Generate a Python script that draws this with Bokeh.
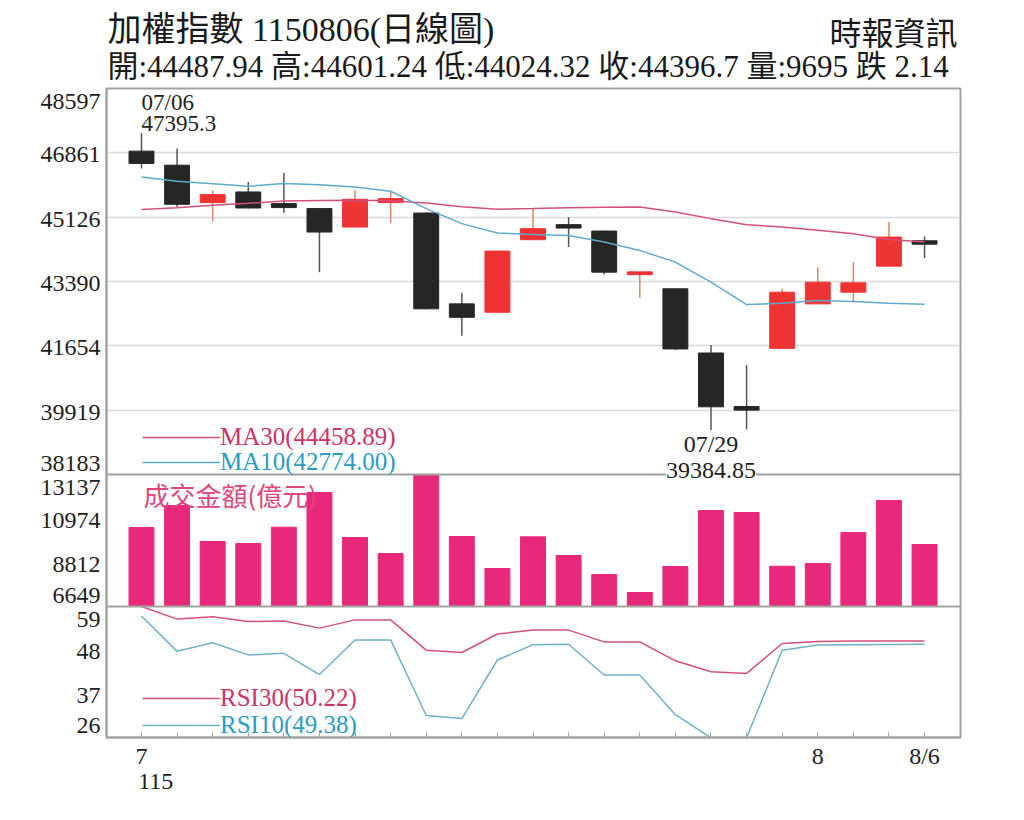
import numpy as np
from bokeh.plotting import figure
from bokeh.layouts import column
from bokeh.models import (ColumnDataSource, Range1d, FixedTicker, Label, Span,
                          Legend, LegendItem, LinearAxis)
from bokeh.embed import file_html
from bokeh.resources import INLINE

# 加權指數 daily candles, 115/07/06 .. 115/08/06
opens = [46907, 46528, 45519, 45806, 45492, 45357, 44859, 45519, 45238, 42787, 42560, 44518,
         44924, 44751, 43575, 43193, 41461, 40017, 41586, 42787, 43101, 43804, 44487.94]
highs = [47395.3, 46980, 45852, 46076, 46320, 45365, 45852, 45833, 45250, 43084, 44220, 45357,
         45129, 44760, 43655, 43200, 41678, 41137, 43193, 43777, 43912, 44994, 44601.24]
lows = [46439, 45400, 45013, 45357, 45248, 43642, 44850, 44967, 42640, 41929, 42550, 44510,
        44318, 43580, 42949, 41540, 39384.85, 39400, 41580, 42780, 42857, 43800, 44024.32]
closes = [46574, 45473, 45735, 45373, 45384, 44724, 45608, 45627, 42652, 42424, 44210, 44816,
          44832, 43642, 43650, 41570, 40009, 39920, 43101, 43371, 43355, 44588, 44396.7]

ma30 = [45330, 45378, 45446, 45500, 45562, 45573, 45581, 45568, 45508, 45405, 45338, 45357,
        45378, 45392, 45400, 45265, 45086, 44924, 44859, 44770, 44681, 44526, 44458.89]
ma10 = [46212, 46095, 46028, 45960, 46033, 46000, 45941, 45825, 45357, 44951, 44697, 44661,
        44634, 44453, 44229, 43912, 43371, 42768, 42803, 42876, 42849, 42803, 42774.00]

# 成交金額(億元)
volume = [10530, 11613, 9844, 9745, 10545, 12252, 10040, 9254, 13137, 10090, 8517, 10075,
          9156, 8222, 7337, 8615, 11367, 11269, 8630, 8762, 10286, 11859, 9695]

rsi30 = [59.0, 55.8, 56.4, 55.2, 55.3, 53.5, 55.6, 55.6, 47.9, 47.3, 52.0, 53.0,
         53.0, 50.0, 50.0, 45.2, 42.4, 42.0, 49.6, 50.1, 50.2, 50.2, 50.22]
rsi10 = [56.6, 47.6, 49.8, 46.7, 47.1, 41.7, 50.5, 50.5, 31.3, 30.5, 45.4, 49.3,
         49.4, 41.6, 41.6, 31.5, 25.6, 25.6, 47.9, 49.2, 49.3, 49.35, 49.38]

price_ticks = [38183, 39919, 41654, 43390, 45126, 46861, 48597]
vol_ticks = [6649, 8812, 10974, 13137]
rsi_ticks = [26, 37, 48, 59]
rsi_bounds = [25.7, 59.0]
x_ticks = [0, 19, 22]
x_tick_text = ["7", "8", "8/6"]
year_text = "115"
hi_date, lo_date = "07/06", "07/29"
change = 2.14

SERIF = "Liberation Serif, Noto Sans CJK TC"
CJK = "Noto Sans CJK TC"
INK = "#1e1e1e"
RED, BLACK = "#ee3333", "#262626"
PINK, BLUE = "#d4507c", "#5eaacd"
BORDER = "#a3a3a3"

n = len(closes)
idx = list(range(n))

# frame split into three stacked panels (px from frame top)
LEFT, RIGHT, HEAD = 106, 30, 86
FW, FH = 854, 649
PRICE_BAND, VOL_BAND, RSI_BAND = (0, 386), (386, 518), (518, 649)


def stretch(lo, hi, band):
    top, bot = band
    ppu = (bot - top) / (hi - lo)
    return Range1d(lo - (FH - bot) / ppu, hi + top / ppu)


price_rng = stretch(price_ticks[0], price_ticks[-1], PRICE_BAND)
vol_rng = stretch(vol_ticks[0], vol_ticks[-1], VOL_BAND)
rsi_rng = stretch(rsi_bounds[0], rsi_bounds[1], RSI_BAND)

p = figure(frame_width=FW, frame_height=FH, min_border_left=LEFT, min_border_right=RIGHT,
           min_border_top=2, min_border_bottom=60,
           x_range=Range1d(-0.983, 23.01), y_range=price_rng,
           output_backend="svg", toolbar_location=None)
p.extra_y_ranges = {"vol": vol_rng, "rsi": rsi_rng}

p.outline_line_color = BORDER
p.outline_line_width = 2
p.xgrid.visible = False
p.ygrid.ticker = FixedTicker(ticks=price_ticks)
p.ygrid.grid_line_color = "#dcdcdc"
p.ygrid.grid_line_width = 1.5

# one left axis carries the labels of all three panels (edge labels kept inside)
span_p = price_rng.end - price_rng.start
ytick_pos, ytick_txt = [], {}
for ticks, rng in ((price_ticks, price_rng), (vol_ticks, vol_rng), (rsi_ticks, rsi_rng)):
    for k, v in enumerate(ticks):
        nudge = -11 if k == 0 else (13 if k == len(ticks) - 1 else 2)
        pos = price_rng.start + (v - rng.start) / (rng.end - rng.start) * span_p
        pos -= nudge * span_p / FH
        ytick_pos.append(pos)
        ytick_txt[pos] = str(v)
ay = p.yaxis[0]
ay.ticker = FixedTicker(ticks=ytick_pos, minor_ticks=[])
ay.major_label_overrides = ytick_txt
ay.axis_line_color = BORDER
ay.axis_line_width = 2
ay.major_tick_line_color = None
ay.minor_tick_line_color = None
ay.major_label_standoff = 0
ay.major_label_text_font = SERIF
ay.major_label_text_font_size = "24px"
ay.major_label_text_color = INK

ax = p.xaxis[0]
ax.ticker = FixedTicker(ticks=x_ticks, minor_ticks=idx)
ax.major_label_overrides = dict(zip(x_ticks, x_tick_text))
ax.axis_line_color = BORDER
ax.axis_line_width = 2
ax.major_tick_line_color = BORDER
ax.major_tick_in, ax.major_tick_out = 5, 0
ax.minor_tick_line_color = BORDER
ax.minor_tick_in, ax.minor_tick_out = 5, 0
ax.major_label_standoff = 5
ax.major_label_text_font = SERIF
ax.major_label_text_font_size = "24px"
ax.major_label_text_color = INK

# year under the first month, its label starting at the month's tick
year_pos = x_ticks[0] + 0.4
ax2 = LinearAxis(ticker=FixedTicker(ticks=[year_pos], minor_ticks=[]),
                 major_label_overrides={year_pos: year_text},
                 axis_line_color=None, major_tick_line_color=None, minor_tick_line_color=None,
                 major_label_standoff=-4,
                 major_label_text_font=SERIF, major_label_text_font_size="24px",
                 major_label_text_color=INK)
p.add_layout(ax2, "below")

# panel separators
for v in (vol_ticks[0], vol_ticks[-1]):
    p.add_layout(Span(location=v, dimension="width", y_range_name="vol",
                      line_color=BORDER, line_width=2))

# candles
up = [c >= o for o, c in zip(opens, closes)]
src = ColumnDataSource(dict(
    x=idx, high=highs, low=lows,
    top=[max(o, c) for o, c in zip(opens, closes)],
    bottom=[min(o, c) for o, c in zip(opens, closes)],
    color=[RED if u else BLACK for u in up],
    wick=["#d98766" if u else "#555555" for u in up],
))
p.segment(x0="x", y0="high", x1="x", y1="low", line_color="wick", line_width=1.5, source=src)
p.vbar(x="x", width=0.7, top="top", bottom="bottom", fill_color="color",
       line_color="color", source=src)

r30 = p.line(idx, ma30, line_color=PINK, line_width=1.5)
r10 = p.line(idx, ma10, line_color=BLUE, line_width=1.5)

# volume
p.vbar(x=idx, width=0.7, top=volume, bottom=vol_ticks[0], color="#e8297b", y_range_name="vol")

# rsi
q30 = p.line(idx, rsi30, line_color=PINK, line_width=1.5, y_range_name="rsi")
q10 = p.line(idx, rsi10, line_color="#6fb2c6", line_width=1.5, y_range_name="rsi")


def add_legend(renderer, text, color, y):
    lg = Legend(items=[LegendItem(label=text, renderers=[renderer])], location=(36, y),
                border_line_color=None, background_fill_alpha=0, padding=0, margin=0,
                spacing=0, glyph_width=78, glyph_height=24, label_height=24, label_standoff=0,
                label_text_font=SERIF, label_text_font_size="25px", label_text_color=color)
    p.add_layout(lg)


add_legend(r30, f"MA30({ma30[-1]:.2f})", "#cc3366", 286)
add_legend(r10, f"MA10({ma10[-1]:.2f})", "#2b9cc4", 261)
add_legend(q30, f"RSI30({rsi30[-1]:.2f})", "#cc3366", 25)
add_legend(q10, f"RSI10({rsi10[-1]:.2f})", "#2b9cc4", -2)

# extreme annotations
ih = int(np.argmax(highs))
il = int(np.argmin(lows))
for txt, off in ((hi_date, 31), (str(highs[ih]), 10)):
    p.add_layout(Label(x=ih, y=highs[ih], text=txt, y_offset=off, text_align="left",
                       text_baseline="middle", text_font=SERIF, text_font_size="23px",
                       text_color=INK))
p.add_layout(Label(x=il, y=lows[il], text=lo_date, y_offset=-14, text_align="center",
                   text_baseline="middle", text_font=SERIF, text_font_size="24px",
                   text_color=INK))
p.add_layout(Label(x=il, y=lows[il], text=str(lows[il]), y_offset=-41, text_align="center",
                   text_baseline="middle", text_font=SERIF, text_font_size="24px",
                   text_color=INK, background_fill_color="white"))

p.add_layout(Label(x=37, y=243, x_units="screen", y_units="screen", text="成交金額(億元)",
                   text_baseline="middle", text_font=CJK, text_font_size="26px",
                   text_color="#e0457b"))

# header strip, its frame lines up with the chart frame
hdr = figure(frame_width=FW, frame_height=HEAD, min_border_left=LEFT, min_border_right=RIGHT,
             min_border_top=0, min_border_bottom=0,
             x_range=Range1d(0, FW), y_range=Range1d(0, HEAD),
             x_axis_location=None, y_axis_location=None,
             output_backend="svg", toolbar_location=None)
hdr.outline_line_color = None
hdr.grid.visible = False
line2 = (f"開:{opens[-1]:.2f} 高:{highs[-1]:.2f} 低:{lows[-1]:.2f} "
         f"收:{closes[-1]:g} 量:{volume[-1]} 跌 {change}")
hdr.add_layout(Label(x=1, y=HEAD - 29, text="加權指數 1150806(日線圖)",
                     text_font=SERIF, text_font_size="34px", text_baseline="middle",
                     text_color="#1a1a1a"))
hdr.add_layout(Label(x=FW - 3, y=HEAD - 33, text="時報資訊", text_align="right",
                     text_font=SERIF, text_font_size="32px", text_baseline="middle",
                     text_color="#1a1a1a"))
hdr.add_layout(Label(x=1, y=HEAD - 66, text=line2, text_font=SERIF,
                     text_font_size="31px", text_baseline="middle", text_color="#1a1a1a"))

page = column(hdr, p, spacing=0)
open("out.html", "w").write(file_html(page, INLINE))
